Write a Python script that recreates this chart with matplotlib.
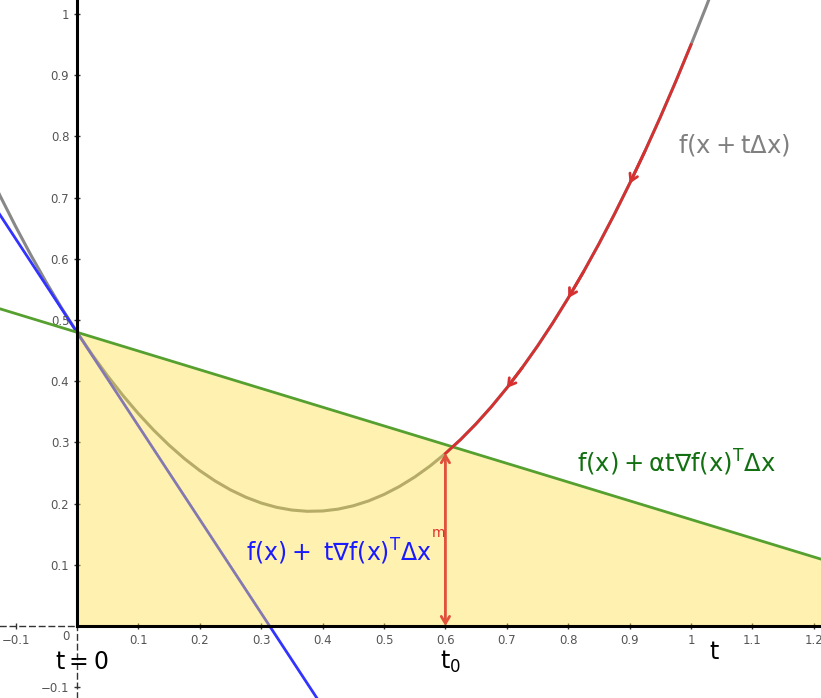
import matplotlib.pyplot as plt
from matplotlib.ticker import FuncFormatter

plt.rcParams['mathtext.fontset'] = 'dejavusans'

# f(x + t*dx)
t_vals = [-0.150, -0.125, -0.100, -0.075, -0.050, -0.025, 0.000, 0.025, 0.050, 0.075,
          0.100, 0.125, 0.150, 0.175, 0.200, 0.225, 0.250, 0.275, 0.300, 0.325,
          0.350, 0.375, 0.400, 0.425, 0.450, 0.475, 0.500, 0.525, 0.550, 0.575,
          0.600, 0.625, 0.650, 0.675, 0.700, 0.725, 0.750, 0.775, 0.800, 0.825,
          0.850, 0.875, 0.900, 0.925, 0.950, 0.975, 1.000, 1.025, 1.050]
f_vals = [0.7545, 0.7025, 0.653, 0.606, 0.5615, 0.5195, 0.48, 0.443, 0.4085, 0.3765,
          0.347, 0.32, 0.2955, 0.2735, 0.254, 0.237, 0.2225, 0.2105, 0.201, 0.194,
          0.1895, 0.1875, 0.188, 0.191, 0.1965, 0.2045, 0.215, 0.228, 0.2435, 0.2615,
          0.282, 0.305, 0.3305, 0.3585, 0.389, 0.422, 0.4575, 0.4955, 0.536, 0.579,
          0.6245, 0.6725, 0.723, 0.776, 0.8315, 0.8895, 0.95, 1.013, 1.0785]

# tangent line f(x) + t grad^T dx and the Armijo line f(x) + alpha t grad^T dx
tangent_t = [-0.15, 0.45]
tangent_y = [0.7095, -0.2085]
armijo_t = [-0.15, 1.25]
armijo_y = [0.5259, 0.0976]
region_t = [0.0, 1.25]
region_y = [0.48, 0.0976]

t0 = 0.6
t0_y = 0.2916
red_start, red_end = 30, 47   # t = 0.6 .. 1.0
arrow_idx = [34, 38, 42]      # arrow heads at t = 0.7, 0.8, 0.9

xticks = [-0.1, 0.1, 0.2, 0.3, 0.4, 0.5, 0.6, 0.7, 0.8, 0.9, 1.0, 1.1, 1.2]
yticks = [-0.1, 0.1, 0.2, 0.3, 0.4, 0.5, 0.6, 0.7, 0.8, 0.9, 1.0]

xmin, xmax = -0.1254, 1.2117
ymin, ymax = -0.1176, 1.023

fig = plt.figure(figsize=(8.21, 6.98), dpi=100)
ax = fig.add_axes([0, 0, 1, 1])
ax.set_xlim(xmin, xmax)
ax.set_ylim(ymin, ymax)

# axes through the origin
for side in ['left', 'bottom']:
    ax.spines[side].set_position(('data', 0))
    ax.spines[side].set_linestyle((0, (4, 3)))
    ax.spines[side].set_linewidth(1)
    ax.spines[side].set_color('#333333')
ax.spines['right'].set_visible(False)
ax.spines['top'].set_visible(False)
ax.set_xticks(xticks)
ax.set_yticks(yticks)
fmt = FuncFormatter(lambda v, p: ('%g' % v).replace('-', '\u2212'))
ax.xaxis.set_major_formatter(fmt)
ax.yaxis.set_major_formatter(fmt)
ax.tick_params(direction='inout', length=5, width=1, color='#333333',
               labelsize=8.5, labelcolor='#555555', pad=3)
ax.text(-0.018, -0.006, '0', fontsize=8.5, color='#555555', ha='center', va='top')

# curves (under the shaded region so they show through it)
ax.plot(t_vals, f_vals, color='#888888', lw=2.2, zorder=1)
ax.plot(tangent_t, tangent_y, color='#3333ff', lw=2, zorder=1)

ax.fill_between(region_t, region_y, 0, color='#ffe03a', alpha=0.4, lw=0, zorder=3)
ax.plot(armijo_t, armijo_y, color='#56a030', lw=2, zorder=4)
ax.plot([0, 0], [0, ymax], color='black', lw=2.2, zorder=4)
ax.plot([0, xmax], [0, 0], color='black', lw=2.2, zorder=4)

# red backtracking path
ax.plot(t_vals[red_start:red_end], f_vals[red_start:red_end], color='#d63030', lw=2, zorder=5)
for i in arrow_idx:
    ax.annotate('', xy=(t_vals[i], f_vals[i]), xytext=(t_vals[i + 1], f_vals[i + 1]),
                arrowprops=dict(arrowstyle='->,head_length=0.5,head_width=0.3',
                                color='#d63030', lw=2, shrinkA=0, shrinkB=0), zorder=5)
ax.annotate('', xy=(t0, 0), xytext=(t0, t0_y),
            arrowprops=dict(arrowstyle='<->,head_length=0.5,head_width=0.3',
                            color='#e0503a', lw=2, shrinkA=4, shrinkB=0), zorder=5)

# labels
ax.text(0.979, 0.786, r'$\mathrm{f(x+t\Delta x)}$', fontsize=17.5, color='#808080', va='center', zorder=6)
ax.text(0.814, 0.266, r'$\mathrm{f(x)+\alpha t\nabla f(x)^{T}\Delta x}$', fontsize=17.5,
        color='#127012', va='center', zorder=6)
ax.text(0.275, 0.121, r'$\mathrm{f(x)+\ t\nabla f(x)^{T}\Delta x}$', fontsize=17,
        color='#1a1aff', va='center', zorder=6)
ax.text(0.577, 0.152, 'm', fontsize=10, color='#e03030', va='center', zorder=6)
ax.text(-0.036, -0.059, r'$\mathrm{t=0}$', fontsize=17, color='black', va='center', zorder=6)
ax.text(0.591, -0.058, r'$\mathrm{t_0}$', fontsize=17, color='black', va='center', zorder=6)
ax.text(1.03, -0.042, r'$\mathrm{t}$', fontsize=17, color='black', va='center', zorder=6)

fig.savefig('out.png', dpi=100)
